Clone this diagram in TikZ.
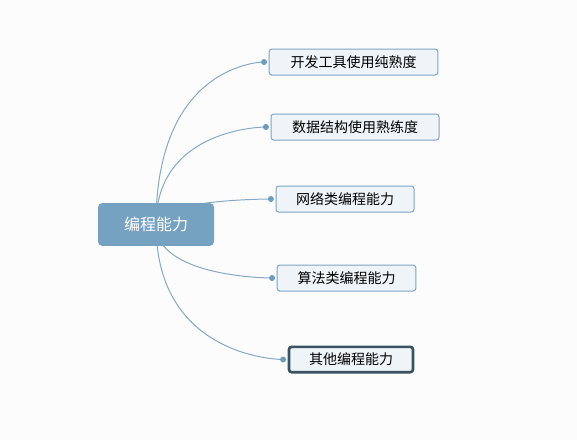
\documentclass[tikz,border=0pt]{standalone}
\usepackage{xcolor}
\usepackage{fontspec}
\setmainfont{Noto Sans CJK SC}
\usetikzlibrary{positioning,backgrounds}

\definecolor{rootblue}{HTML}{76A2C2}
\definecolor{boxfill}{HTML}{EEF4F8}
\definecolor{boxline}{HTML}{7EA5C4}
\definecolor{linkblue}{HTML}{86AAC6}
\definecolor{dotblue}{HTML}{6F9BBD}
\definecolor{selline}{HTML}{3B5262}
\definecolor{paper}{HTML}{FCFCFC}

\begin{document}
\begin{tikzpicture}[x=0.75pt, y=-0.75pt,
  root/.style={draw=none, fill=rootblue, text=white, rounded corners=3pt,
               minimum width=87pt, minimum height=32pt, inner sep=0pt,
               font=\fontsize{12}{14}\selectfont},
  topic/.style={draw=boxline, fill=boxfill, rounded corners=2pt, line width=0.75pt,
                minimum height=19.5pt, inner sep=0pt,
                font=\fontsize{10.5}{12}\selectfont},
  chosen/.style={topic, draw=selline, line width=2pt},
  dot/.style={circle, fill=dotblue, inner sep=0pt, minimum size=4.5pt},
  link/.style={linkblue, line width=0.75pt}]

  %--- Page ----------------------------------------------------------------
  \useasboundingbox (0,0) rectangle (577,440);

  %--- Central topic -------------------------------------------------------
  \node[root] (prog) at (156,224.5) {编程能力};

  %--- Subtopics -----------------------------------------------------------
  \node[topic, minimum width=126.5pt] (tools) at (353.5,62)  {开发工具使用纯熟度};
  \node[topic, minimum width=126pt]   (ds)    at (355,127)   {数据结构使用熟练度};
  \node[topic, minimum width=103.5pt] (net)   at (345,199)   {网络类编程能力};
  \node[topic, minimum width=104pt]   (algo)  at (346.5,278) {算法类编程能力};
  \node[chosen, minimum width=93pt, minimum height=19pt]
                                      (other) at (351,359.5) {其他编程能力};

  %--- Connection dots -----------------------------------------------------
  \foreach \t in {tools, ds, net, algo, other}
    \node[dot, left=1pt of \t] (d-\t) {};

  %--- Branches ------------------------------------------------------------
  \begin{scope}[on background layer]
    \fill[paper] (0,0) rectangle (577,440);
    \foreach \t in {tools, ds, net, algo, other}
      \draw[link] (prog.center) .. controls (prog.center |- d-\t) and (d-\t.center)
                  .. (d-\t.center);
  \end{scope}

\end{tikzpicture}
\end{document}
